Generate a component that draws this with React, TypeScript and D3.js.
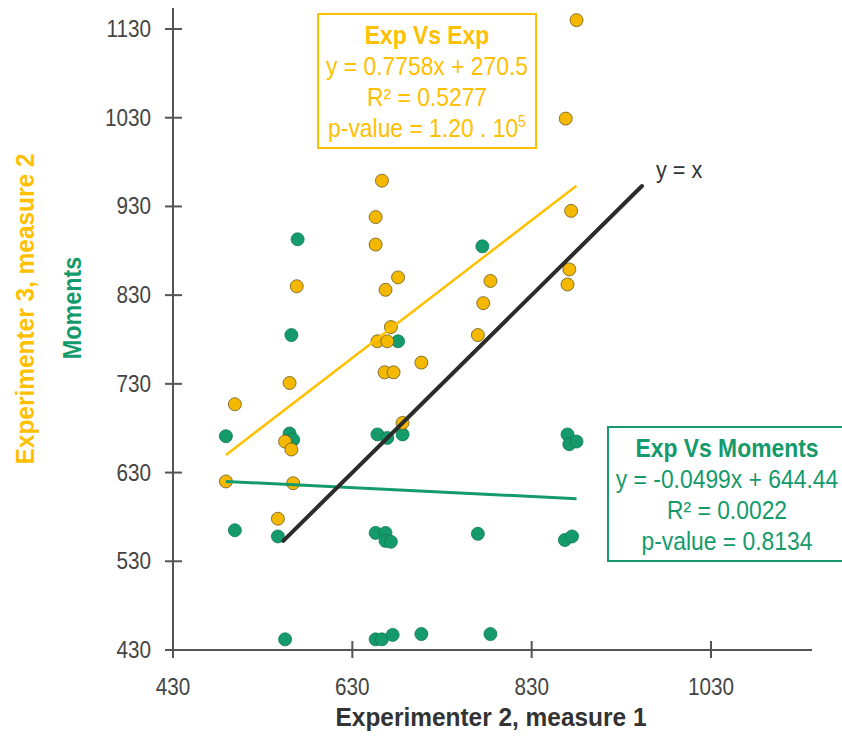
import React from "react";
import * as d3 from "d3";

// values
const expX = [880, 868, 663, 874, 656, 656, 872, 681, 784, 568, 667, 870, 776, 673, 770, 658, 669, 707, 666, 676, 560, 499, 686, 555, 562, 489, 564, 547];
const expY = [1140, 1029, 959, 925, 918, 887, 859, 850, 846, 840, 836, 842, 821, 794, 785, 778, 778, 754, 743, 743, 731, 707, 686, 665, 656, 620, 618, 578];
const momX = [569, 775, 562, 681, 489, 658, 669, 686, 560, 564, 870, 872, 880, 499, 547, 656, 667, 667, 673, 770, 867, 875, 555, 656, 663, 675, 707, 784];
const momY = [893, 885, 785, 778, 671, 673, 669, 673, 674, 667, 673, 662, 665, 565, 558, 562, 562, 553, 552, 561, 554, 558, 442, 442, 442, 447, 448, 448];

const xTicks = [430, 630, 830, 1030];
const yTicks = [430, 530, 630, 730, 830, 930, 1030, 1130];

// fitted lines: [slope, intercept]
const expFit = [0.7758, 270.5];
const momFit = [-0.0499, 644.44];
const identityRange = [553, 953];

const expLabel = ["Exp Vs Exp", "y = 0.7758x + 270.5", "R² = 0.5277"];
const momLabel = ["Exp Vs Moments", "y = -0.0499x + 644.44", "R² = 0.0022", "p-value = 0.8134"];

const YELLOW = "#FFC000";
const DOT_Y = "#F5B800";
const GREEN = "#159A6C";
const FONT = "'Liberation Sans', Arial, sans-serif";

// narrow text: Arial squeezed horizontally, like the condensed face of the original
function NText(props: any) {
  const { x, y, sx = 0.88, rotate = 0, anchor = "middle", children, ...rest } = props;
  const tr = `translate(${x},${y})` + (rotate ? ` rotate(${rotate})` : "") + ` scale(${sx},1)`;
  return (
    <text transform={tr} textAnchor={anchor} {...rest}>
      {children}
    </text>
  );
}

export default function App() {
  const width = 842;
  const height = 752;

  const x = d3.scaleLinear().domain([430, 1030]).range([173, 711]);
  const y = d3.scaleLinear().domain([430, 1130]).range([650, 29]);

  const xMin = d3.min(expX) as number;
  const xMax = d3.max(expX) as number;
  const line = d3.line<number[]>().x(d => x(d[0])).y(d => y(d[1]));
  const fitPts = (f: number[]) => [xMin, xMax].map(v => [v, f[0] * v + f[1]]);

  return (
    <div style={{ position: "absolute", left: 0, top: 0 }}>
      <svg width={width} height={height} style={{ display: "block", background: "#fff" }} fontFamily={FONT}>
        {/* axes */}
        <line x1={173} x2={173} y1={8} y2={656} stroke="#555" strokeWidth={2} />
        <line x1={165} x2={812} y1={650} y2={650} stroke="#555" strokeWidth={2} />
        {yTicks.map(t => (
          <g key={"y" + t}>
            <line x1={165} x2={182} y1={y(t)} y2={y(t)} stroke="#555" strokeWidth={2} />
            <NText x={151} y={y(t) + 8} anchor="end" sx={0.9} fontSize={23} fill="#444">{t}</NText>
          </g>
        ))}
        {xTicks.map(t => (
          <g key={"x" + t}>
            <line x1={x(t)} x2={x(t)} y1={641} y2={658} stroke="#555" strokeWidth={2} />
            <NText x={x(t)} y={695} sx={0.9} fontSize={23} fill="#444">{t}</NText>
          </g>
        ))}

        {/* axis titles */}
        <NText x={491} y={726} sx={0.94} fontSize={26} fontWeight="bold" fill="#333">
          Experimenter 2, measure 1
        </NText>
        <NText x={34} y={309} rotate={-90} sx={0.94} fontSize={26} fontWeight="bold" fill={YELLOW}>
          Experimenter 3, measure 2
        </NText>
        <NText x={81} y={308} rotate={-90} sx={0.9} fontSize={26} fontWeight="bold" fill={GREEN}>
          Moments
        </NText>

        {/* points */}
        {momX.map((v, i) => (
          <circle key={"m" + i} cx={x(v)} cy={y(momY[i])} r={6.5} fill={GREEN} stroke="#0f7a55" strokeWidth={0.8} />
        ))}
        {expX.map((v, i) => (
          <circle key={"e" + i} cx={x(v)} cy={y(expY[i])} r={6.5} fill={DOT_Y} stroke="#6b5a20" strokeWidth={0.8} />
        ))}

        {/* lines */}
        <path d={line(fitPts(expFit)) || ""} stroke={YELLOW} strokeWidth={2.5} fill="none" />
        <path d={line(fitPts(momFit)) || ""} stroke={GREEN} strokeWidth={3} fill="none" />
        <path d={line(identityRange.map(v => [v, v])) || ""} stroke="#2b2b2b" strokeWidth={4} fill="none" strokeLinecap="round" />
        <NText x={656} y={178} anchor="start" sx={0.9} fontSize={24} fill="#333">y = x</NText>

        {/* Exp Vs Exp box */}
        <rect x={318} y={14} width={218} height={134} fill="none" stroke={YELLOW} strokeWidth={2} />
        <NText x={427} y={44} fontSize={26} fontWeight="bold" fill={YELLOW}>{expLabel[0]}</NText>
        <NText x={427} y={75} fontSize={26} fill={YELLOW}>{expLabel[1]}</NText>
        <NText x={427} y={106} fontSize={26} fill={YELLOW}>{expLabel[2]}</NText>
        <NText x={427} y={137} fontSize={26} fill={YELLOW}>
          p-value = 1.20 . 10<tspan fontSize={16} dy={-10}>5</tspan>
        </NText>

        {/* Exp Vs Moments box */}
        <rect x={608} y={427} width={236} height={134} fill="#fff" stroke={GREEN} strokeWidth={2} />
        <NText x={727} y={457} fontSize={26} fontWeight="bold" fill={GREEN}>{momLabel[0]}</NText>
        <NText x={727} y={488} fontSize={26} fill={GREEN}>{momLabel[1]}</NText>
        <NText x={727} y={519} fontSize={26} fill={GREEN}>{momLabel[2]}</NText>
        <NText x={727} y={550} fontSize={26} fill={GREEN}>{momLabel[3]}</NText>
      </svg>
    </div>
  );
}
